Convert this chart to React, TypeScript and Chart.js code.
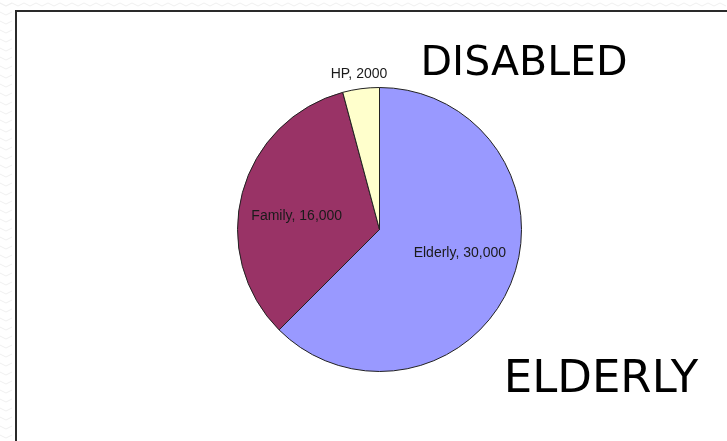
import React, { useEffect, useRef } from "react";
import { Chart, registerables } from "chart.js";

Chart.register(...registerables);

const categories = ["Elderly", "Family", "HP"];
const values = [30000, 16000, 2000];
const valueLabels = ["30,000", "16,000", "2000"];
const colors = ["#9999FF", "#993366", "#FFFFCC"];
const headings = ["DISABLED", "ELDERLY"];

const framePlugin = {
  id: "frame",
  beforeDraw(chart: any) {
    const { ctx, width, height } = chart;
    ctx.save();
    ctx.fillStyle = "#ffffff";
    ctx.fillRect(0, 0, width, height);
    // faint zig-zag outside frame
    ctx.strokeStyle = "#f0f0f0";
    ctx.lineWidth = 1;
    const fx = 15, fy = 10;
    ctx.beginPath();
    for (let y = 3; y < fy; y += 8) {
      for (let x = 0; x <= width; x += 6) {
        const yy = y + ((x / 6) % 2 === 0 ? 0 : 3);
        if (x === 0) ctx.moveTo(x, yy);
        else ctx.lineTo(x, yy);
      }
    }
    ctx.stroke();
    ctx.beginPath();
    for (let y = 3; y < height; y += 9) {
      for (let x = 0; x <= fx - 2; x += 6) {
        const yy = y + ((x / 6) % 2 === 0 ? 0 : 3);
        if (x === 0) ctx.moveTo(x, yy);
        else ctx.lineTo(x, yy);
      }
    }
    ctx.stroke();
    ctx.fillStyle = "#2a2a2a";
    ctx.fillRect(fx, fy, width - fx, 2);
    ctx.fillRect(fx, fy, 2, height - fy);
    ctx.restore();
  },
  afterDatasetsDraw(chart: any) {
    const { ctx } = chart;
    const meta = chart.getDatasetMeta(0);
    const total = values.reduce((a, b) => a + b, 0);
    ctx.save();
    ctx.font = "14px 'Liberation Sans', Arial, sans-serif";
    ctx.textAlign = "center";
    ctx.textBaseline = "middle";
    ctx.fillStyle = "#1a1a1a";
    meta.data.forEach((arc: any, i: number) => {
      const { x, y, startAngle, endAngle, outerRadius } = arc.getProps(
        ["x", "y", "startAngle", "endAngle", "outerRadius"],
        true
      );
      const frac = values[i] / total;
      const text = categories[i] + ", " + valueLabels[i];
      let mid = (startAngle + endAngle) / 2;
      let r;
      if (frac < 0.08) {
        r = outerRadius + 15;
      } else {
        mid -= (6 * Math.PI) / 180;
        r = outerRadius * 0.59;
      }
      ctx.fillText(text, x + Math.cos(mid) * r, y + Math.sin(mid) * r);
    });
    ctx.restore();
  },
  afterDraw(chart: any) {
    const { ctx } = chart;
    ctx.save();
    ctx.fillStyle = "#000000";
    ctx.textAlign = "center";
    ctx.textBaseline = "alphabetic";
    ctx.font = "41px 'DejaVu Sans', sans-serif";
    ctx.fillText(headings[0], 524, 75);
    ctx.font = "45px 'DejaVu Sans', sans-serif";
    ctx.fillText(headings[1], 601, 392);
    ctx.restore();
  },
};

export default function App() {
  const ref = useRef<HTMLCanvasElement | null>(null);
  useEffect(() => {
    document.body.style.margin = "0";
    const canvas = ref.current;
    if (!canvas) return;
    const chart = new Chart(canvas, {
      type: "pie",
      data: {
        labels: categories,
        datasets: [
          {
            data: values,
            backgroundColor: colors,
            borderColor: "#222222",
            borderWidth: 1,
          },
        ],
      },
      options: {
        responsive: false,
        animation: false,
        devicePixelRatio: 1,
        layout: { padding: { left: 237, right: 205, top: 87, bottom: 69 } },
        plugins: {
          legend: { display: false },
          tooltip: { enabled: false },
          title: { display: false },
        },
      },
      plugins: [framePlugin],
    });
    return () => chart.destroy();
  }, []);
  return (
    <div style={{ width: 727, height: 441 }}>
      <canvas ref={ref} width={727} height={441} />
    </div>
  );
}
